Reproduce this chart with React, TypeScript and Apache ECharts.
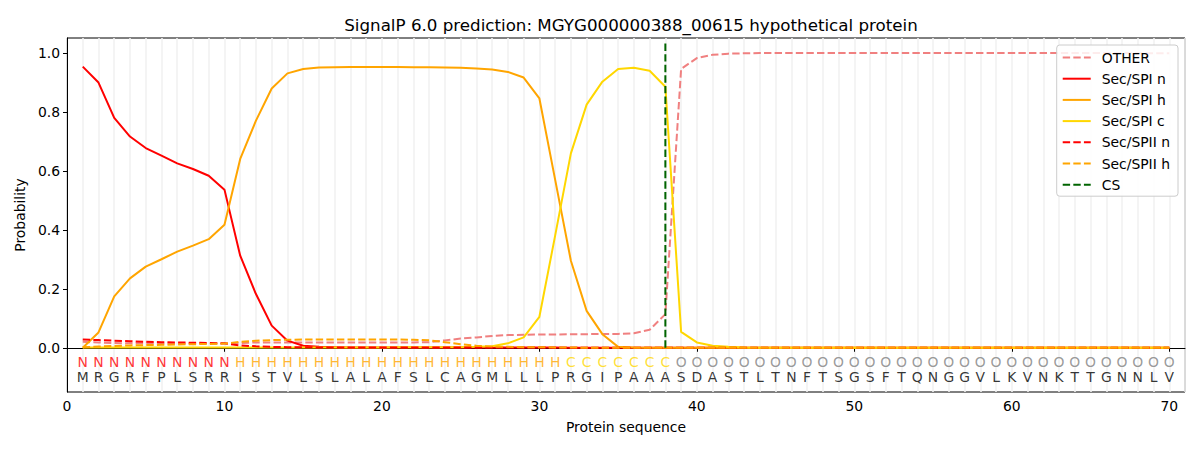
import React, { useEffect, useRef } from "react";
import * as echarts from "echarts";

const sequence = "MRGRFPLSRRISTVLSLALAFSLCAGMLLLPRGIPAAASDASTLTNFTSGSFTQNGGVLKVNKTTGNNLV".split("");
const regions = "NNNNNNNNNNHHHHHHHHHHHHHHHHHHHHHCCCCCCCOOOOOOOOOOOOOOOOOOOOOOOOOOOOOOOO".split("");
const positions = sequence.map((_, i) => i + 1);

const other = [
  0.020, 0.018, 0.016, 0.015, 0.015, 0.014, 0.014, 0.014, 0.014, 0.014,
  0.016, 0.018, 0.018, 0.018, 0.018, 0.018, 0.018, 0.018, 0.018, 0.018,
  0.018, 0.018, 0.019, 0.025, 0.031, 0.035, 0.040, 0.043, 0.044, 0.045,
  0.045, 0.046, 0.046, 0.047, 0.047, 0.049, 0.061, 0.114, 0.945, 0.982,
  0.993, 0.997, 0.998, 0.999, 0.999, 0.999, 0.999, 0.999, 0.999, 0.999,
  0.999, 0.999, 0.999, 0.999, 0.999, 0.999, 0.999, 0.999, 0.999, 0.999,
  0.999, 0.999, 0.999, 0.999, 0.999, 0.999, 0.999, 0.998, 0.998, 0.998,
];
const spiN = [
  0.953, 0.899, 0.779, 0.716, 0.677, 0.651, 0.625, 0.606, 0.583, 0.536,
  0.312, 0.182, 0.075, 0.024, 0.007, 0.003, 0.002, 0.001, 0.001, 0.001,
  0.001, 0.001, 0.001, 0.001, 0.001, 0.001, 0.001, 0.001, 0.001, 0.001,
  0.001, 0.000, 0.000, 0.000, 0.000, 0.000, 0.000, 0.000, 0.000, 0.000,
  0.000, 0.000, 0.000, 0.000, 0.000, 0.000, 0.000, 0.000, 0.000, 0.000,
  0.000, 0.000, 0.000, 0.000, 0.000, 0.000, 0.000, 0.000, 0.000, 0.000,
  0.000, 0.000, 0.000, 0.000, 0.000, 0.000, 0.000, 0.000, 0.000, 0.000,
];
const spiH = [
  0.000, 0.052, 0.174, 0.235, 0.275, 0.300, 0.326, 0.346, 0.368, 0.417,
  0.640, 0.770, 0.879, 0.930, 0.945, 0.950, 0.951, 0.952, 0.952, 0.952,
  0.952, 0.951, 0.951, 0.950, 0.949, 0.947, 0.943, 0.935, 0.916, 0.845,
  0.570, 0.295, 0.125, 0.046, 0.003, 0.001, 0.000, 0.000, 0.000, 0.000,
  0.000, 0.000, 0.000, 0.000, 0.000, 0.000, 0.000, 0.000, 0.000, 0.000,
  0.000, 0.000, 0.000, 0.000, 0.000, 0.000, 0.000, 0.000, 0.000, 0.000,
  0.000, 0.000, 0.000, 0.000, 0.000, 0.000, 0.000, 0.000, 0.000, 0.000,
];
const spiC = [
  0.001, 0.001, 0.001, 0.001, 0.001, 0.001, 0.001, 0.001, 0.001, 0.001,
  0.001, 0.001, 0.001, 0.001, 0.001, 0.001, 0.001, 0.001, 0.001, 0.001,
  0.002, 0.002, 0.002, 0.002, 0.002, 0.003, 0.005, 0.015, 0.035, 0.105,
  0.380, 0.659, 0.824, 0.902, 0.945, 0.949, 0.939, 0.885, 0.054, 0.018,
  0.007, 0.003, 0.001, 0.000, 0.000, 0.000, 0.000, 0.000, 0.000, 0.000,
  0.000, 0.000, 0.000, 0.000, 0.000, 0.000, 0.000, 0.000, 0.000, 0.000,
  0.000, 0.000, 0.000, 0.000, 0.000, 0.000, 0.000, 0.000, 0.000, 0.000,
];
const spiiN = [
  0.028, 0.026, 0.024, 0.022, 0.020, 0.019, 0.018, 0.017, 0.016, 0.015,
  0.008, 0.005, 0.003, 0.002, 0.002, 0.001, 0.001, 0.001, 0.001, 0.001,
  0.001, 0.001, 0.001, 0.001, 0.001, 0.001, 0.001, 0.001, 0.001, 0.001,
  0.000, 0.000, 0.000, 0.000, 0.000, 0.000, 0.000, 0.000, 0.000, 0.000,
  0.000, 0.000, 0.000, 0.000, 0.000, 0.000, 0.000, 0.000, 0.000, 0.000,
  0.000, 0.000, 0.000, 0.000, 0.000, 0.000, 0.000, 0.000, 0.000, 0.000,
  0.000, 0.000, 0.000, 0.000, 0.000, 0.000, 0.000, 0.000, 0.000, 0.000,
];
const spiiH = [
  0.002, 0.004, 0.006, 0.008, 0.009, 0.010, 0.011, 0.012, 0.013, 0.014,
  0.020, 0.024, 0.026, 0.027, 0.028, 0.028, 0.028, 0.028, 0.028, 0.028,
  0.028, 0.027, 0.025, 0.019, 0.012, 0.007, 0.004, 0.003, 0.002, 0.002,
  0.001, 0.001, 0.000, 0.000, 0.000, 0.000, 0.000, 0.000, 0.000, 0.000,
  0.000, 0.000, 0.000, 0.000, 0.000, 0.000, 0.000, 0.000, 0.000, 0.000,
  0.000, 0.000, 0.000, 0.000, 0.000, 0.000, 0.000, 0.000, 0.000, 0.000,
  0.000, 0.000, 0.000, 0.000, 0.000, 0.000, 0.000, 0.000, 0.000, 0.000,
];
const csPosition = 38;
const csSpan = [0, 1.04];
const xTicks = [0, 10, 20, 30, 40, 50, 60, 70];
const yTicks = [0, 0.2, 0.4, 0.6, 0.8, 1.0];
const regionRowY = -0.049;
const seqRowY = -0.1;

const regionColors: Record<string, string> = {
  N: "#ff0000",
  H: "#ffa500",
  C: "#ffd700",
  O: "#808080",
};

const FONT = "DejaVu Sans";
const FS = 13.9;
const DASH = [7.4, 3.2];

function lineSeries(name: string, values: number[], color: string, dashed: boolean) {
  return {
    name,
    type: "line",
    xAxisIndex: 0,
    yAxisIndex: 0,
    data: values.map((v, i) => [positions[i], v]),
    symbol: "none",
    showSymbol: false,
    lineStyle: { color, width: 2, type: dashed ? DASH : "solid" },
    itemStyle: { color },
    z: 3,
  };
}

export default function App() {
  const ref = useRef<HTMLDivElement>(null);
  useEffect(() => {
    document.body.style.margin = "0";
    if (!ref.current) return;
    const chart = echarts.init(ref.current, undefined, { renderer: "svg" });
    const option = {
      animation: false,
      backgroundColor: "#ffffff",
      title: {
        text: "SignalP 6.0 prediction: MGYG000000388_00615 hypothetical protein",
        left: 626,
        top: 11,
        textAlign: "center",
        textStyle: { fontFamily: FONT, fontSize: 16.7, fontWeight: "normal", color: "#000" },
      },
      legend: {
        data: ["OTHER", "Sec/SPI n", "Sec/SPI h", "Sec/SPI c", "Sec/SPII n", "Sec/SPII h", "CS"],
        orient: "vertical",
        right: 22,
        top: 45,
        itemWidth: 28,
        itemHeight: 14,
        itemGap: 6.2,
        padding: [5, 8, 4, 5],
        backgroundColor: "rgba(255,255,255,0.85)",
        borderColor: "#cccccc",
        borderWidth: 1,
        borderRadius: 3,
        itemStyle: { opacity: 0, borderWidth: 0 },
        textStyle: {
          fontFamily: FONT,
          fontSize: FS,
          color: "#000",
          padding: [0, 0, 0, 6],
          lineHeight: 15,
          height: 15,
        },
      },
      grid: {
        left: 67,
        right: 15,
        top: 38,
        bottom: 58,
        show: true,
        borderColor: "#000",
        borderWidth: 1,
        backgroundColor: "transparent",
      },
      xAxis: [
        {
          type: "value",
          min: 0,
          max: 71,
          name: "Protein sequence",
          nameLocation: "middle",
          nameGap: 28,
          nameTextStyle: { fontFamily: FONT, fontSize: FS, color: "#000" },
          axisLine: { show: true, lineStyle: { color: "#000", width: 1 } },
          axisTick: { show: true, inside: false, length: 4, customValues: xTicks, lineStyle: { color: "#000" } },
          axisLabel: {
            show: true,
            margin: 7,
            customValues: xTicks,
            fontFamily: FONT,
            fontSize: FS,
            color: "#000",
          },
          splitLine: { show: false },
        },
        {
          type: "value",
          min: 0,
          max: 71,
          interval: 1,
          position: "top",
          axisLine: { show: false },
          axisTick: { show: false },
          axisLabel: { show: false },
          splitLine: { show: true, lineStyle: { color: "#f2f2f2", width: 1.6 } },
        },
      ],
      yAxis: [
        {
          type: "value",
          min: -0.15,
          max: 1.05,
          name: "Probability",
          nameLocation: "middle",
          nameGap: 38,
          nameTextStyle: { fontFamily: FONT, fontSize: FS, color: "#000" },
          axisLine: { show: true, lineStyle: { color: "#000", width: 1 } },
          axisTick: { show: true, inside: false, length: 4, customValues: yTicks, lineStyle: { color: "#000" } },
          axisLabel: {
            show: true,
            margin: 7,
            customValues: yTicks,
            formatter: (v: number) => v.toFixed(1),
            fontFamily: FONT,
            fontSize: FS,
            color: "#000",
          },
          splitLine: { show: false },
        },
      ],
      series: [
        lineSeries("OTHER", other, "#f08080", true),
        lineSeries("Sec/SPI n", spiN, "#ff0000", false),
        lineSeries("Sec/SPI h", spiH, "#ffa500", false),
        lineSeries("Sec/SPI c", spiC, "#ffd700", false),
        lineSeries("Sec/SPII n", spiiN, "#ff0000", true),
        lineSeries("Sec/SPII h", spiiH, "#ffa500", true),
        {
          name: "CS",
          type: "line",
          data: csSpan.map((v) => [csPosition, v]),
          symbol: "none",
          showSymbol: false,
          lineStyle: { color: "#006400", width: 2, type: DASH },
          itemStyle: { color: "#006400" },
          z: 4,
        },
        {
          name: "regions",
          type: "scatter",
          symbolSize: 1,
          itemStyle: { color: "rgba(0,0,0,0)" },
          silent: true,
          data: regions.map((r, i) => ({
            value: [positions[i], regionRowY],
            name: r,
            label: { color: regionColors[r] },
          })),
          label: {
            show: true,
            position: "inside",
            formatter: (p: any) => p.name,
            fontFamily: FONT,
            fontSize: FS,
          },
          z: 5,
        },
        {
          name: "sequence",
          type: "scatter",
          symbolSize: 1,
          itemStyle: { color: "rgba(0,0,0,0)" },
          silent: true,
          data: sequence.map((s, i) => ({ value: [positions[i], seqRowY], name: s })),
          label: {
            show: true,
            position: "inside",
            formatter: (p: any) => p.name,
            fontFamily: FONT,
            fontSize: FS,
            color: "#000",
          },
          z: 5,
        },
      ],
    };
    chart.setOption(option as any);
    return () => chart.dispose();
  }, []);
  return <div ref={ref} style={{ width: 1200, height: 450, position: "absolute", left: 0, top: 0 }} />;
}
